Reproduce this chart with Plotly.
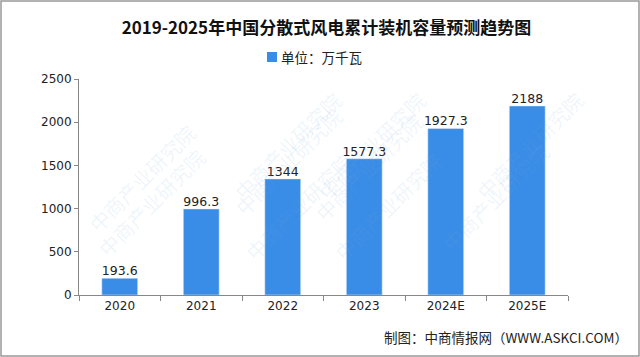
import plotly.graph_objects as go

categories = ["2020", "2021", "2022", "2023", "2024E", "2025E"]
values = [193.6, 996.3, 1344, 1577.3, 1927.3, 2188]
labels = ["193.6", "996.3", "1344", "1577.3", "1927.3", "2188"]
series_name = "单位：万千瓦"
title = "2019-2025年中国分散式风电累计装机容量预测趋势图"
source = "制图：中商情报网（WWW.ASKCI.COM）"
bar_color = "#3A8DE6"

fig = go.Figure()
fig.add_trace(go.Bar(
    x=categories, y=values, name=series_name,
    marker=dict(color=bar_color), showlegend=False,
))
fig.add_trace(go.Scatter(
    x=categories, y=values, mode="text", text=labels, textposition="top center",
    textfont=dict(size=12.5, color="#222", family="DejaVu Sans"),
    showlegend=False, cliponaxis=False, hoverinfo="skip",
))

# faint watermarks
wm = [(0.02, 0.72), (0.30, 0.62), (0.30, 0.98), (0.72, 0.30), (0.76, 0.70), (0.98, 0.45), (0.45, 0.12), (0.0, 0.25), (1.05, 0.98), (0.6, 0.98)]
for (wx, wy) in wm:
    fig.add_annotation(xref="paper", yref="paper", x=wx, y=wy, text="中商产业研究院",
                       showarrow=False, textangle=-45,
                       font=dict(size=20, color="rgba(120,170,220,0.12)", family="Noto Sans CJK SC"))

fig.update_layout(
    width=640, height=357,
    margin=dict(l=79, r=72, t=79, b=62),
    paper_bgcolor="white", plot_bgcolor="white",
    title=dict(text="<b>" + title + "</b>", x=0.51, xanchor="center", y=0.922, yanchor="middle",
               font=dict(size=17, color="#111", family="Noto Sans CJK SC")),
    bargap=0.56,
    xaxis=dict(showline=True, linecolor="#888", linewidth=1, ticks="outside", tickson="boundaries",
               ticklen=5, tickcolor="#888", tickfont=dict(size=12, color="#222", family="DejaVu Sans")),
    yaxis=dict(range=[0, 2500], dtick=500, showline=True, linecolor="#888", linewidth=1,
               ticks="outside", ticklen=4, tickcolor="#888", showgrid=False, zeroline=False,
               tickfont=dict(size=12, color="#222", family="DejaVu Sans")),
    shapes=[dict(type="rect", xref="paper", yref="paper", x0=-78/489, x1=1+71/489, y0=-61/216, y1=1+78/216,
                 line=dict(color="#999", width=1.5), fillcolor="rgba(0,0,0,0)"),
            dict(type="rect", xref="paper", yref="paper", x0=(267 - 79) / 489, x1=(277 - 79) / 489,
                 y0=1 + (79 - 62) / 216, y1=1 + (79 - 52) / 216,
                 line=dict(width=0), fillcolor=bar_color)],
)
# legend-like key text
fig.add_annotation(xref="paper", yref="paper", x=(279 - 79) / 489, y=1 + (79 - 57) / 216,
                   xanchor="left", yanchor="middle", showarrow=False,
                   text=series_name,
                   font=dict(size=13.5, color="#222", family="Noto Sans CJK SC"))
fig.add_annotation(xref="paper", yref="paper", x=1+62/489, y=-42/216, xanchor="right", yanchor="middle",
                   text=source, showarrow=False,
                   font=dict(size=13.5, color="#222", family="Noto Sans CJK SC"))

fig.write_html("out.html")
